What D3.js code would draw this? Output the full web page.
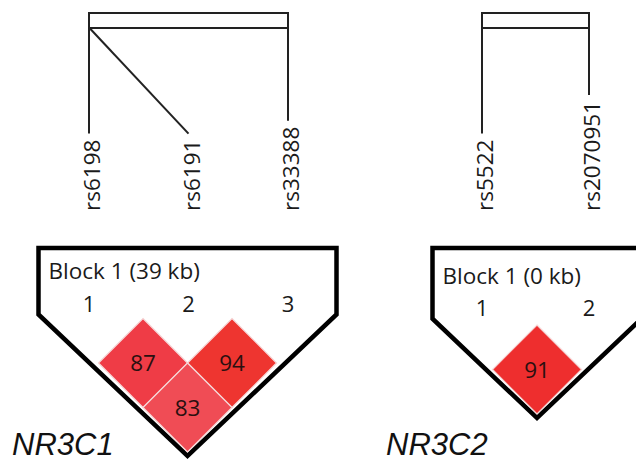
<!DOCTYPE html>
<html>
<head>
<meta charset="utf-8">
<script src="https://cdn.jsdelivr.net/npm/d3@7"></script>
<style>
    body { margin: 0; background: #fff; }
    svg { display: block; }
</style>
</head>
<body>
<svg id="chart" width="636" height="461"></svg>
<script>
// SNPs and their relative genomic positions (kb) per gene
const snps1 = ["rs6198", "rs6191", "rs33388"];
const kb1 = [0, 0.1, 39];
const snps2 = ["rs5522", "rs2070951"];
const kb2 = [0, 0.1];

// pairwise D' (x100): [first marker, second marker, value]
const dprime1 = [[1, 2, 87], [2, 3, 94], [1, 3, 83]];
const dprime2 = [[1, 2, 91]];

const blockLabels = ["Block 1 (39 kb)", "Block 1 (0 kb)"];
const geneNames = ["NR3C1", "NR3C2"];

const svg = d3.select("#chart");
const font = "'Open Sans', 'Noto Sans', sans-serif";

const color = d3.scaleLinear()
    .domain([83, 87, 91, 94])
    .range(["#f04c55", "#ef3c46", "#ee2e2e", "#ee3530"]);

function drawGene(opt) {
    const g = svg.append("g");
    const n = opt.snps.length;

    // top: genomic position bracket + SNP labels
    const pos = d3.scaleLinear().domain(d3.extent(opt.kb)).range([opt.boxX0, opt.boxX1]);
    const mark = d3.scalePoint().domain(d3.range(n)).range([opt.boxX0, opt.boxX1]);

    g.append("rect")
        .attr("x", opt.boxX0).attr("y", 13)
        .attr("width", opt.boxX1 - opt.boxX0).attr("height", 15)
        .attr("fill", "none").attr("stroke", "#222").attr("stroke-width", 2);

    const labelBottom = 211;
    opt.snps.forEach((s, i) => {
        const x = mark(i);
        const t = g.append("text")
            .attr("transform", `translate(${x + 3},${labelBottom}) rotate(-90)`)
            .attr("dy", "0.36em")
            .attr("font-family", font).attr("font-size", 22.5)
            .attr("fill", "#1a1a1a")
            .text(s);
        const len = t.node().getComputedTextLength();
        g.append("line")
            .attr("x1", pos(opt.kb[i])).attr("y1", 28)
            .attr("x2", x).attr("y2", labelBottom - len - 6)
            .attr("stroke", "#222").attr("stroke-width", 2);
    });

    // bottom: LD triangle
    const cell = 89;
    const grid = d3.scaleLinear().domain([1, n]).range([opt.gridX0, opt.gridX0 + cell * (n - 1)]);
    const yTop = opt.gridY0;
    const half = cell / 2;
    const midX = (grid(1) + grid(n)) / 2;
    const bottomY = yTop + (n - 1) * half + half + 4;
    const pad = 60;
    const leftX = grid(1) - pad, rightX = grid(n) + pad;
    const slope = 0.95;

    g.append("polygon")
        .attr("points", [
            [leftX, 248], [rightX, 248],
            [rightX, bottomY - (rightX - midX) * slope],
            [midX, bottomY],
            [leftX, bottomY - (midX - leftX) * slope]
        ].map(p => p.join(",")).join(" "))
        .attr("fill", "#fff").attr("stroke", "#000")
        .attr("stroke-width", 4.5).attr("stroke-linejoin", "miter");

    g.append("text")
        .attr("x", leftX + 10).attr("y", opt.blockY)
        .attr("font-family", font).attr("font-size", 22.5)
        .attr("fill", "#1a1a1a")
        .text(opt.block);

    opt.snps.forEach((s, i) => {
        g.append("text")
            .attr("x", mark(i)).attr("y", opt.numY)
            .attr("text-anchor", "middle")
            .attr("font-family", font).attr("font-size", 22)
            .attr("fill", "#1a1a1a")
            .text(i + 1);
    });

    const cells = g.selectAll(".cell").data(opt.dprime).enter().append("g")
        .attr("transform", d => `translate(${(grid(d[0]) + grid(d[1])) / 2},${yTop + (d[1] - d[0]) * half})`);

    cells.append("polygon")
        .attr("points", `0,${-half} ${half},0 0,${half} ${-half},0`)
        .attr("fill", d => color(d[2]))
        .attr("stroke", "#f6d6d6").attr("stroke-width", 1.2);

    cells.append("text")
        .attr("text-anchor", "middle").attr("dy", "0.36em")
        .attr("font-family", font).attr("font-size", 22.5)
        .attr("fill", "#2a1010")
        .text(d => d[2]);

    g.append("text")
        .attr("x", opt.nameX).attr("y", opt.nameY)
        .attr("font-family", "'Liberation Sans', Arial, sans-serif")
        .attr("font-style", "italic").attr("font-size", 31)
        .attr("fill", "#111")
        .text(opt.name);
}

drawGene({
    snps: snps1, kb: kb1, dprime: dprime1, block: blockLabels[0], name: geneNames[0],
    boxX0: 89, boxX1: 288, gridX0: 98.5, gridY0: 318.5,
    blockY: 279, numY: 312, nameX: 12, nameY: 455
});
drawGene({
    snps: snps2, kb: kb2, dprime: dprime2, block: blockLabels[1], name: geneNames[1],
    boxX0: 482, boxX1: 589, gridX0: 492.5, gridY0: 325,
    blockY: 284, numY: 316, nameX: 386, nameY: 455
});
</script>
</body>
</html>
